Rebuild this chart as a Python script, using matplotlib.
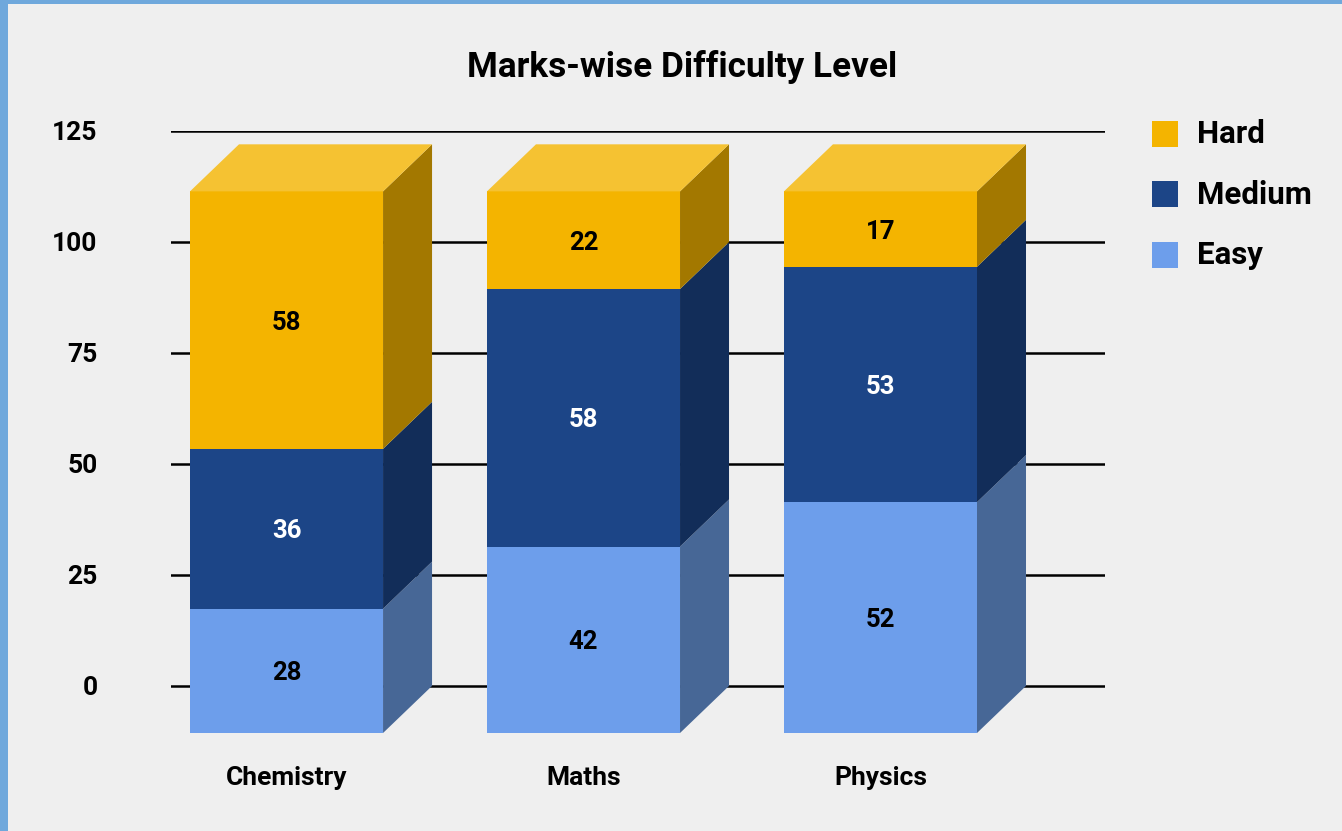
import numpy as np
import matplotlib.pyplot as plt
from matplotlib.patches import Polygon, Rectangle

plt.rcParams['font.family'] = ['Roboto', 'DejaVu Sans']
plt.rcParams['font.weight'] = 'bold'

subjects = ['Chemistry', 'Maths', 'Physics']
levels = ['Easy', 'Medium', 'Hard']
easy = [28, 42, 52]
medium = [36, 58, 53]
hard = [58, 22, 17]
yticks = [0, 25, 50, 75, 100, 125]

# front, side, top shades per level
colors = {
    'Easy': ('#6d9eeb', '#476796', '#8ab2f0'),
    'Medium': ('#1c4587', '#122d59', '#3a5f9c'),
    'Hard': ('#f4b400', '#a37800', '#f5c232'),
}
label_colors = {'Easy': 'black', 'Medium': 'white', 'Hard': 'black'}

bar_w = 0.65
dx = 0.165   # depth in x units
dy = 10.6    # depth in value units

W, H = 1342, 831
fig = plt.figure(figsize=(W / 100, H / 100), dpi=100)
fig.patch.set_facecolor('#6fa8dc')
fig.patches.append(Rectangle((8 / W, 0), 1, 1 - 4 / H, transform=fig.transFigure,
                             facecolor='#efefef', edgecolor='none', zorder=-5))

ax = fig.add_axes([171 / W, 1 - 733 / H, 934 / W, 602 / H])
ax.set_zorder(2)
ax.set_facecolor('none')
ax.set_xlim(-0.389, 2.756)
ax.set_ylim(-dy, 125)

for v in yticks:
    ax.axhline(v, color='black', lw=1.8, zorder=1)

series = {'Easy': easy, 'Medium': medium, 'Hard': hard}
x = np.arange(len(subjects))
bottom = np.zeros(len(subjects))
for lev in levels:
    vals = np.array(series[lev], dtype=float)
    front, side, top = colors[lev]
    for i in range(len(subjects)):
        b, t = bottom[i], bottom[i] + vals[i]
        l, r = x[i] - bar_w / 2, x[i] + bar_w / 2
        ax.add_patch(Rectangle((l, b - dy), bar_w, vals[i], facecolor=front,
                               edgecolor='none', zorder=3))
        ax.add_patch(Polygon([(r, b - dy), (r + dx, b), (r + dx, t), (r, t - dy)],
                             facecolor=side, edgecolor='none', zorder=3))
        if lev == levels[-1]:
            ax.add_patch(Polygon([(l, t - dy), (l + dx, t), (r + dx, t), (r, t - dy)],
                                 facecolor=top, edgecolor='none', zorder=3))
        ax.text(x[i], (b + t) / 2 - dy, str(int(vals[i])), ha='center',
                va='center_baseline', fontsize=18.5, fontweight='bold',
                color=label_colors[lev], zorder=4)
    bottom += vals

ax.set_yticks(yticks)
ax.set_yticklabels([str(v) for v in yticks], fontsize=19, fontweight='bold')
ax.tick_params(axis='y', length=0, pad=53)
ax.set_xticks(x)
ax.set_xticklabels(subjects, fontsize=19, fontweight='bold')
ax.tick_params(axis='x', length=0, pad=24)
for s in ax.spines.values():
    s.set_visible(False)

fig.text(682 / W, 1 - 67 / H, 'Marks-wise Difficulty Level', ha='center', va='center',
         fontsize=25.3, fontweight='bold')

# legend
for k, lev in enumerate(['Hard', 'Medium', 'Easy']):
    yc = 1 - (134 + 60.5 * k) / H
    fig.patches.append(Rectangle((1152 / W, yc - 13 / H), 26 / W, 26 / H,
                                 transform=fig.transFigure, facecolor=colors[lev][0],
                                 edgecolor='none'))
    fig.text(1197 / W, yc, lev, ha='left', va='center', fontsize=22.5, fontweight='bold')

fig.savefig('out.png', dpi=100, facecolor=fig.get_facecolor())
